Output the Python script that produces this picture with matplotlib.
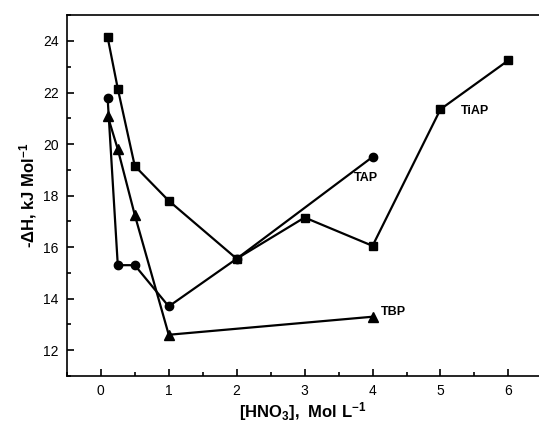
import matplotlib

matplotlib.use("Agg")
import matplotlib.pyplot as plt  # noqa: E402
from matplotlib.ticker import MultipleLocator  # noqa: E402

# dados
tiap_x = [0.1, 0.25, 0.5, 1, 2, 3, 4, 5, 6]
tiap_y = [24.15, 22.15, 19.15, 17.8, 15.55, 17.15, 16.05, 21.35, 23.25]
tap_x = [0.1, 0.25, 0.5, 1, 2, 4]
tap_y = [21.8, 15.3, 15.3, 13.7, 15.55, 19.5]
tbp_x = [0.1, 0.25, 0.5, 1, 4]
tbp_y = [21.1, 19.8, 17.25, 12.6, 13.3]

plt.rcParams.update({
    "font.family": ["Liberation Sans", "DejaVu Sans"],
    "mathtext.fontset": "custom",
    "mathtext.rm": "Liberation Sans:bold",
    "mathtext.it": "Liberation Sans:bold",
    "mathtext.bf": "Liberation Sans:bold",
})

fig = plt.figure(figsize=(5.39, 4.22), dpi=100)
ax = fig.add_axes([0.124, 0.109, 0.876, 0.855])

kw = dict(color="black", lw=1.6)
ax.plot(tiap_x, tiap_y, marker="s", ms=5.5, **kw)
ax.plot(tap_x, tap_y, marker="o", ms=6, **kw)
ax.plot(tbp_x, tbp_y, marker="^", ms=6.5, **kw)

ax.text(5.3, 21.3, "TiAP", fontsize=9, fontweight="bold", va="center")
ax.text(3.72, 18.7, "TAP", fontsize=9, fontweight="bold", va="center")
ax.text(4.12, 13.5, "TBP", fontsize=9, fontweight="bold", va="center")

ax.set_xlim(-0.5, 6.45)
ax.set_ylim(11, 25)
ax.xaxis.set_major_locator(MultipleLocator(1))
ax.xaxis.set_minor_locator(MultipleLocator(0.5))
ax.yaxis.set_major_locator(MultipleLocator(2))
ax.yaxis.set_minor_locator(MultipleLocator(1))
ax.tick_params(which="both", direction="in", labelsize=10, width=1.2)
ax.tick_params(which="major", length=5, pad=6)
ax.tick_params(which="minor", length=3)
ax.spines["right"].set_visible(False)
for s in ("left", "top", "bottom"):
    ax.spines[s].set_linewidth(1.2)

ax.set_xlabel(r"[HNO$_3$],  Mol L$^{-1}$", fontsize=12, fontweight="bold", labelpad=1)
ax.set_ylabel(r"-$\Delta$H, kJ Mol$^{-1}$", fontsize=12, fontweight="bold", labelpad=3)

fig.savefig("out.png", dpi=100)
